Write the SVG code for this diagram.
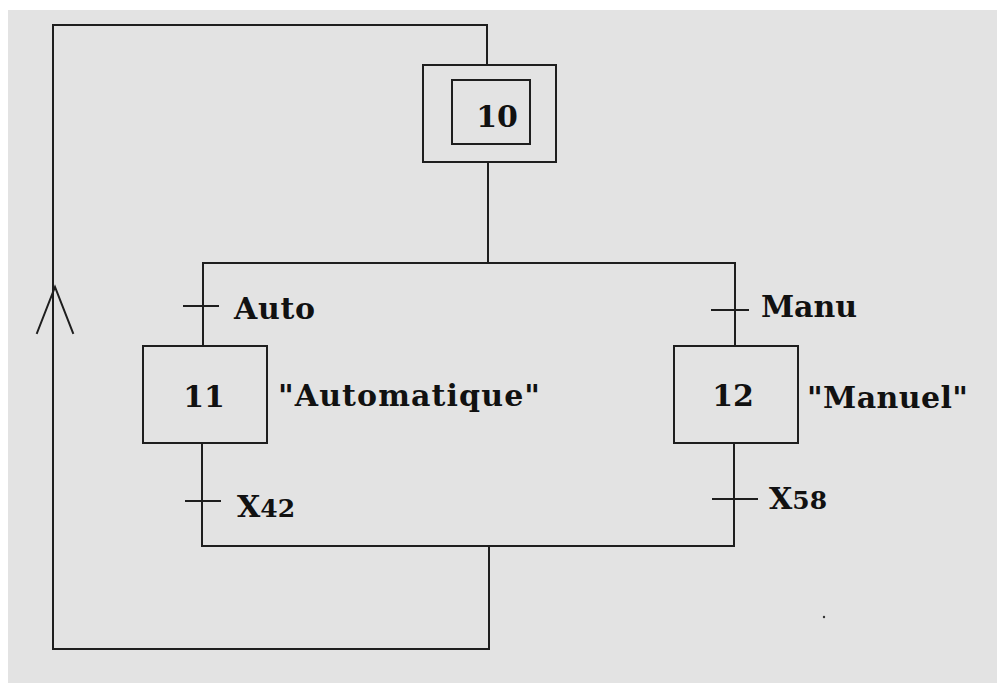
<svg xmlns="http://www.w3.org/2000/svg" width="997" height="683" viewBox="0 0 997 683">
  <style>
    .ln { stroke: #1e1e1e; stroke-width: 2; fill: none; stroke-linecap: square; }
    .box { stroke: #1e1e1e; stroke-width: 2; fill: none; }
    .lbl { font-family: "DejaVu Serif", "Liberation Serif", serif; font-weight: bold; font-size: 30px; fill: #111; }
    .num { font-family: "DejaVu Serif", "Liberation Serif", serif; font-weight: bold; font-size: 30px; fill: #111; text-anchor: middle; }
    .sub { font-size: 25px; }
  </style>
  <rect x="0" y="0" width="997" height="683" fill="#ffffff"/>
  <rect x="8" y="10" width="989" height="673" fill="#e3e3e3"/>

  <!-- connectors: links, transitions and return loop -->
  <g id="connectors">
    <!-- return loop from the end back to the initial step -->
    <polyline class="ln" points="489,546 489,649 53,649 53,25 487,25 487,65"/>
    <!-- direction chevron on the return line -->
    <polyline class="ln" points="37,333 55,287 73,333" stroke-linecap="butt"/>
    <!-- from step 10 down to selection divergence -->
    <line class="ln" x1="488" y1="162" x2="488" y2="263"/>
    <line class="ln" x1="203" y1="263" x2="735" y2="263"/>
    <!-- left branch -->
    <line class="ln" x1="203" y1="263" x2="203" y2="346"/>
    <line class="ln" x1="184" y1="306" x2="218" y2="306"/>
    <line class="ln" x1="202" y1="443" x2="202" y2="546"/>
    <line class="ln" x1="186" y1="501" x2="220" y2="501"/>
    <!-- right branch -->
    <line class="ln" x1="735" y1="263" x2="735" y2="346"/>
    <line class="ln" x1="712" y1="310" x2="748" y2="310"/>
    <line class="ln" x1="734" y1="443" x2="734" y2="546"/>
    <line class="ln" x1="713" y1="499" x2="757" y2="499"/>
    <!-- selection convergence -->
    <line class="ln" x1="202" y1="546" x2="734" y2="546"/>
  </g>

  <!-- transition conditions -->
  <g id="transitions">
    <text class="lbl" x="234" y="319" textLength="81">Auto</text>
    <text class="lbl" x="761" y="317" textLength="96">Manu</text>
    <text class="lbl" x="237" y="517">X<tspan class="sub">42</tspan></text>
    <text class="lbl" x="769" y="509">X<tspan class="sub">58</tspan></text>
  </g>

  <!-- initial step -->
  <g id="step-10">
    <rect class="box" x="423" y="65" width="133" height="97"/>
    <rect class="box" x="452" y="80" width="78" height="64"/>
    <text class="num" x="497" y="127">10</text>
  </g>

  <g id="step-11">
    <rect class="box" x="143" y="346" width="124" height="97"/>
    <text class="num" x="204" y="407">11</text>
    <text class="lbl" x="278" y="406" textLength="262">"Automatique"</text>
  </g>

  <g id="step-12">
    <rect class="box" x="674" y="346" width="124" height="97"/>
    <text class="num" x="733" y="406">12</text>
    <text class="lbl" x="807" y="408" textLength="161">"Manuel"</text>
  </g>

  <circle cx="824" cy="617" r="1.2" fill="#333"/>
</svg>
